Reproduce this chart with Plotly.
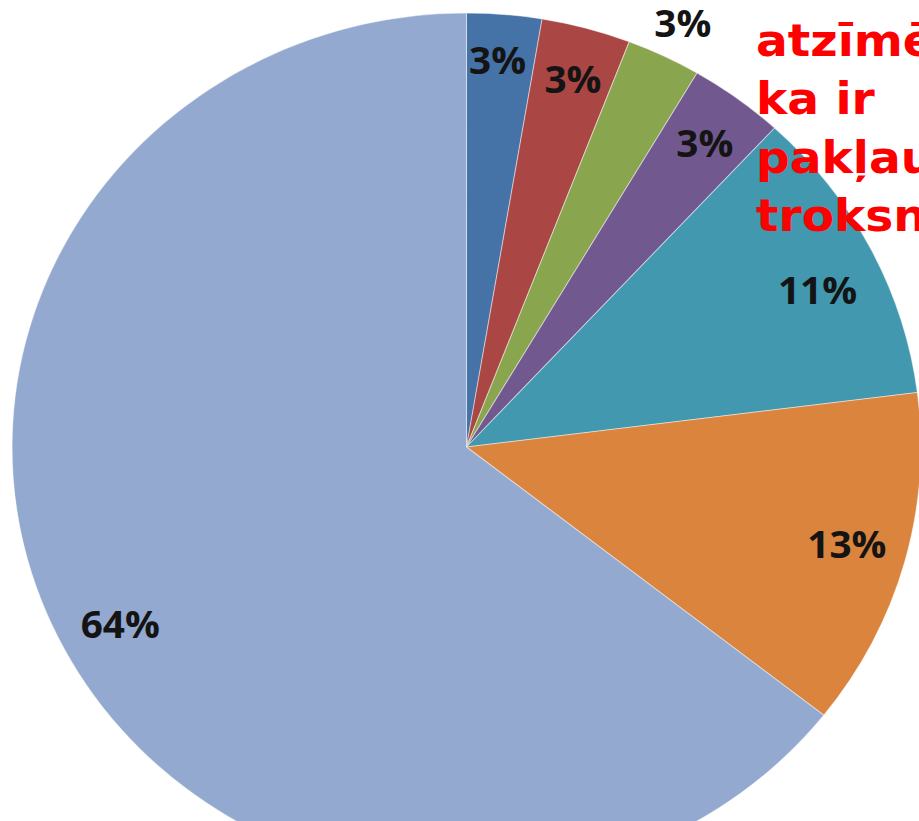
import plotly.graph_objects as go

# slice categories (clockwise from 12 o'clock)
categories = ["S1", "S2", "S3", "S4", "S5", "S6", "S7"]
# slice shares as drawn in the picture (%)
values = [2.66, 3.17, 2.64, 3.39, 11.14, 12.6, 64.4]
# printed data labels
label_texts = ["3%", "3%", "3%", "3%", "11%", "13%", "64%"]
colors = ["#4572A7", "#AA4643", "#89A54E", "#71588F", "#4198AF", "#DB843D", "#93A9CF"]

title_text = "atzīmē,<br>ka ir<br>pakļauti<br>troksnim"

# layout geometry (screen pixels of the reference)
SX = 1.047           # horizontal stretch of the original image
W, H = 900, 900      # figure size before stretch
CX, CY, R = 466.5, 447, 434

label_px = [(498, 60), (573, 78), (683, 22), (705, 142), (818, 289), (847, 543), (120, 623)]

def px(x):
    return x / SX / W

def py(y):
    return 1 - y / H

cxp = px(CX)
cyp = py(CY)
fig = go.Figure()
fig.add_trace(go.Pie(
    labels=categories,
    values=values,
    sort=False,
    direction="clockwise",
    rotation=0,
    textinfo="none",
    hoverinfo="label+percent",
    marker=dict(colors=colors, line=dict(color="rgba(255,255,255,0.45)", width=1)),
    domain=dict(x=[cxp - R / W, cxp + R / W], y=[cyp - R / H, cyp + R / H]),
    showlegend=False,
))

for (lx, ly), t in zip(label_px, label_texts):
    fig.add_annotation(
        x=px(lx), y=py(ly), xref="paper", yref="paper",
        text=t, showarrow=False, xanchor="center", yanchor="middle",
        font=dict(family="Open Sans", size=37, color="#141414", weight="bold"),
    )

fig.add_annotation(
    x=px(754), y=py(129), xref="paper", yref="paper",
    text=title_text, showarrow=False, xanchor="left", yanchor="middle", align="left",
    font=dict(family="DejaVu Sans", size=45, color="#FF0000", weight="bold"),
)

fig.update_layout(
    width=W, height=H,
    margin=dict(l=0, r=0, t=0, b=0),
    paper_bgcolor="white", plot_bgcolor="white",
)

post = (
    "var d=document.getElementById('{plot_id}');"
    "d.style.transform='scaleX(%s)';d.style.transformOrigin='0 0';"
    "document.body.style.margin='0';document.body.style.overflow='hidden';"
    "document.documentElement.style.overflow='hidden';" % SX
)
fig.write_html("out.html", post_script=post, config={"displayModeBar": False})
